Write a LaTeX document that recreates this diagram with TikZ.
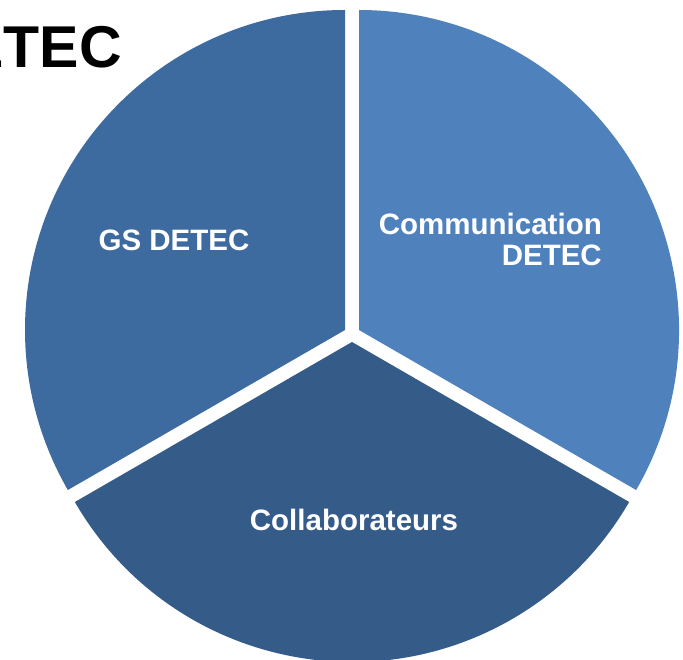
\documentclass[tikz,border=0pt]{standalone}
\usepackage{fontspec}
\setmainfont{Liberation Sans}
\usepackage{xcolor}
\definecolor{gsblue}{HTML}{3D6A9F}
\definecolor{comblue}{HTML}{4F81BD}
\definecolor{colblue}{HTML}{355B89}
\tikzset{
    slice label/.style={text=white, font=\fontsize{29.5}{31}\selectfont\bfseries, inner sep=0pt},
}
\begin{document}
\begin{tikzpicture}[x=1pt,y=1pt]
            \useasboundingbox (0,0) rectangle (683,659);
            \clip (0,0) rectangle (683,659);
            \fill[white] (0,0) rectangle (683,659);
            \begin{scope}
                \fill[gsblue] (345,329) -- ++(90:320) arc (90:210:320) -- cycle;
                \fill[comblue] (359,329) -- ++(-30:320) arc (-30:90:320) -- cycle;
                \fill[colblue] (352,317) -- ++(210:320) arc (210:330:320) -- cycle;
            \end{scope}
            \node[anchor=base east, inner sep=0pt, font=\fontsize{59}{60}\selectfont\bfseries] (title) at (122,591) {ETEC};
            \node[slice label] (gs) at (174,419) {GS DETEC};
            \node[slice label, align=right, anchor=east] (com) at (602,420) {Communication\\DETEC};
            \node[slice label] (col) at (354,139) {Collaborateurs};
        \end{tikzpicture}
\end{document}
